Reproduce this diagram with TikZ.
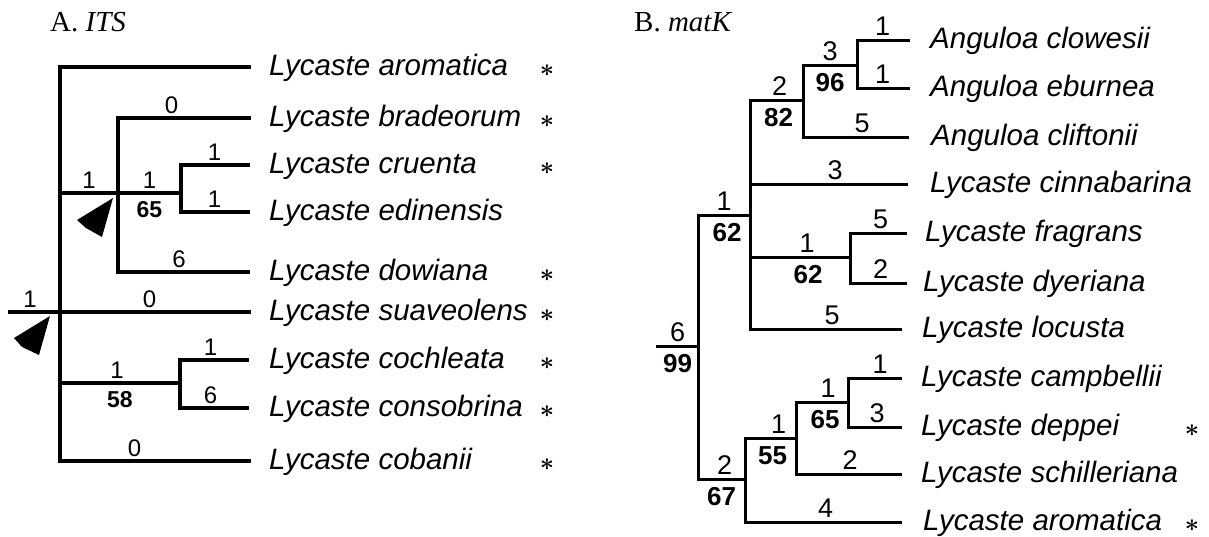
\documentclass[tikz,border=0pt]{standalone}
\usepackage{fontspec}
\setmainfont{Liberation Serif}
\newfontfamily\arialfont{Liberation Sans}
\usetikzlibrary{positioning, calc}

\begin{document}
\begin{tikzpicture}[
        x=1pt, y=-1pt,
        title/.style={font=\fontsize{29}{31}\selectfont, inner sep=0pt, anchor=base west},
        branchA/.style={line width=3.2pt, line cap=rect},
        branchB/.style={line width=3pt, line cap=rect},
        taxon/.style={font=\fontsize{29.5}{31}\selectfont\arialfont\itshape, inner sep=0pt, anchor=base west, yshift=-8pt},
        ast/.style={font=\fontsize{30}{30}\selectfont\boldmath, inner sep=0pt, anchor=base, yshift=-9pt},
        lenA/.style={font=\fontsize{24}{26}\selectfont\arialfont, inner sep=0pt, above=3pt},
        bootA/.style={font=\fontsize{23}{25}\selectfont\arialfont\bfseries, inner sep=0pt, below=7pt},
        lenB/.style={font=\fontsize{27}{29}\selectfont\arialfont, inner sep=0pt, above=3pt},
        bootB/.style={font=\fontsize{26}{28}\selectfont\arialfont\bfseries, inner sep=0pt, below=7pt}
    ]
    \useasboundingbox (0,0) rectangle (1209,536);

    % A. ITS
    \node[title] (tA) at (50,31) {A. \textit{ITS}};
    \coordinate (sA) at (10,312);
    \coordinate (rA) at (60,312);
    \coordinate (nA1) at (118,193);
    \coordinate (nA2) at (181,193);
    \coordinate (nA3) at (180,383);
    \coordinate (A1) at (249,67);
    \coordinate (A2) at (249,118);
    \coordinate (A3) at (248,165);
    \coordinate (A4) at (248,212);
    \coordinate (A5) at (248,272);
    \coordinate (A6) at (249,312);
    \coordinate (A7) at (247,360);
    \coordinate (A8) at (247,408);
    \coordinate (A9) at (249,461);
    \coordinate (colA) at (547,0);

    \draw[branchA] (sA) -- node[lenA, xshift=-5pt] {1} (rA);
    \draw[branchA] (rA) |- (A1);
    \draw[branchA] (rA) |- node[lenA, pos=.75] {1} (nA1);
    \draw[branchA] (nA1) |- node[lenA, pos=.75, xshift=-12pt] {0} (A2);
    \draw[branchA] (nA1) -- node[lenA] {1} node[bootA] {65} (nA2);
    \draw[branchA] (nA2) |- node[lenA, pos=.75] {1} (A3);
    \draw[branchA] (nA2) |- node[lenA, pos=.75] {1} (A4);
    \draw[branchA] (nA1) |- node[lenA, pos=.75, xshift=-4pt] {6} (A5);
    \draw[branchA] (rA) -- node[lenA, xshift=-5pt] {0} (A6);
    \draw[branchA] (rA) |- node[lenA, pos=.75, xshift=-3pt] {1} node[bootA, pos=.75] {58} (nA3);
    \draw[branchA] (nA3) |- node[lenA, pos=.75, xshift=-3pt] {1} (A7);
    \draw[branchA] (nA3) |- node[lenA, pos=.75, xshift=-3pt] {6} (A8);
    \draw[branchA] (rA) |- node[lenA, pos=.75, xshift=-20pt] {0} (A9);

    % arrowheads
    \fill ($(nA1)+(-5,5)$) -- ($(nA1)+(-41,27)$) -- ($(nA1)+(-32,35)$) -- ($(nA1)+(-16,44)$) -- cycle;
    \fill ($(rA)+(-10,4)$) -- ($(rA)+(-46,26)$) -- ($(rA)+(-38,35)$) -- ($(rA)+(-21,43)$) -- cycle;

    \node[right=20pt of A1, taxon] (lA1) {Lycaste aromatica};
    \node[right=20pt of A2, taxon] (lA2) {Lycaste bradeorum};
    \node[right=21pt of A3, taxon] (lA3) {Lycaste cruenta};
    \node[right=21pt of A4, taxon] (lA4) {Lycaste edinensis};
    \node[right=21pt of A5, taxon] (lA5) {Lycaste dowiana};
    \node[right=20pt of A6, taxon] (lA6) {Lycaste suaveolens};
    \node[right=22pt of A7, taxon] (lA7) {Lycaste cochleata};
    \node[right=22pt of A8, taxon] (lA8) {Lycaste consobrina};
    \node[right=20pt of A9, taxon] (lA9) {Lycaste cobanii};
    \foreach \t in {A1,A2,A3,A5,A6,A7,A8,A9}
        \node[ast] at (\t -| colA) {$\ast$};

    % B. matK
    \node[title] (tB) at (634,31) {B. \textit{matK}};
    \coordinate (sB) at (657,346);
    \coordinate (rB) at (698,346);
    \coordinate (nB1) at (750,215);
    \coordinate (nB2) at (803,100);
    \coordinate (nB3) at (857,65);
    \coordinate (nB4) at (850,257);
    \coordinate (nB6) at (745,479);
    \coordinate (nB7) at (796,438);
    \coordinate (nB8) at (848,402);
    \coordinate (B1) at (908,40);
    \coordinate (B2) at (908,88);
    \coordinate (B3) at (907,137);
    \coordinate (B4) at (906,184);
    \coordinate (B5) at (905,233);
    \coordinate (B6) at (905,283);
    \coordinate (B7) at (900,329);
    \coordinate (B8) at (900,378);
    \coordinate (B9) at (900,427);
    \coordinate (B10) at (900,474);
    \coordinate (B11) at (900,522);
    \coordinate (colB) at (1192,0);

    \draw[branchB] (sB) -- node[lenB] {6} node[bootB] {99} (rB);
    \draw[branchB] (rB) |- node[lenB, pos=.75] {1} node[bootB, pos=.75, xshift=3pt] {62} (nB1);
    \draw[branchB] (rB) |- node[lenB, pos=.75, xshift=3pt] {2} node[bootB, pos=.75] {67} (nB6);
    \draw[branchB] (nB1) |- node[lenB, pos=.75, xshift=3pt] {2} node[bootB, pos=.75, xshift=2pt] {82} (nB2);
    \draw[branchB] (nB2) |- node[lenB, pos=.75] {3} node[bootB, pos=.75] {96} (nB3);
    \draw[branchB] (nB3) |- node[lenB, pos=.75] {1} (B1);
    \draw[branchB] (nB3) |- node[lenB, pos=.75] {1} (B2);
    \draw[branchB] (nB2) |- node[lenB, pos=.75, xshift=7pt] {5} (B3);
    \draw[branchB] (nB1) |- node[lenB, pos=.75, xshift=7pt] {3} (B4);
    \draw[branchB] (nB1) |- node[lenB, pos=.75, xshift=7pt] {1} node[bootB, pos=.75, xshift=8pt] {62} (nB4);
    \draw[branchB] (nB4) |- node[lenB, pos=.75, xshift=3pt] {5} (B5);
    \draw[branchB] (nB4) |- node[lenB, pos=.75, xshift=3pt] {2} (B6);
    \draw[branchB] (nB1) |- node[lenB, pos=.75, xshift=7pt] {5} (B7);
    \draw[branchB] (nB6) |- node[lenB, pos=.75, xshift=8pt] {1} node[bootB, pos=.75, xshift=2pt] {55} (nB7);
    \draw[branchB] (nB7) |- node[lenB, pos=.75, xshift=6pt] {1} node[bootB, pos=.75, xshift=3pt] {65} (nB8);
    \draw[branchB] (nB8) |- node[lenB, pos=.75, xshift=6pt] {1} (B8);
    \draw[branchB] (nB8) |- node[lenB, pos=.75, xshift=3pt] {3} (B9);
    \draw[branchB] (nB7) |- node[lenB, pos=.75, xshift=2pt] {2} (B10);
    \draw[branchB] (nB6) |- node[lenB, pos=.75, xshift=3pt] {4} (B11);

    \node[right=22pt of B1, taxon] (lB1) {Anguloa clowesii};
    \node[right=22pt of B2, taxon] (lB2) {Anguloa eburnea};
    \node[right=24pt of B3, taxon] (lB3) {Anguloa cliftonii};
    \node[right=24pt of B4, taxon] (lB4) {Lycaste cinnabarina};
    \node[right=20pt of B5, taxon] (lB5) {Lycaste fragrans};
    \node[right=18pt of B6, taxon] (lB6) {Lycaste dyeriana};
    \node[right=22pt of B7, taxon] (lB7) {Lycaste locusta};
    \node[right=21pt of B8, taxon] (lB8) {Lycaste campbellii};
    \node[right=21pt of B9, taxon] (lB9) {Lycaste deppei};
    \node[right=21pt of B10, taxon] (lB10) {Lycaste schilleriana};
    \node[right=23pt of B11, taxon] (lB11) {Lycaste aromatica};
    \foreach \t in {B9,B11}
        \node[ast] at (\t -| colB) {$\ast$};
\end{tikzpicture}
\end{document}
